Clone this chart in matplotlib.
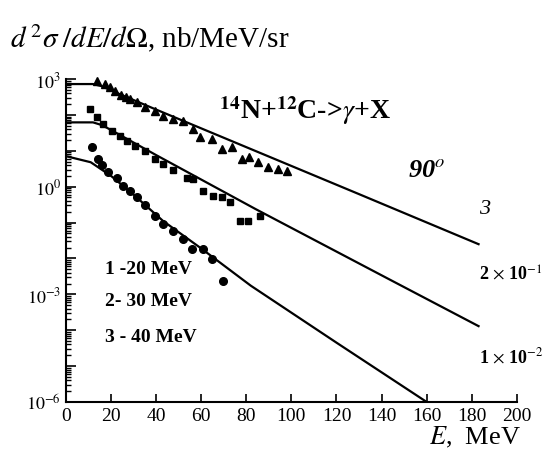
import matplotlib.pyplot as plt
import numpy as np
from matplotlib.ticker import FixedLocator, NullFormatter

plt.rcParams['font.family'] = ['Liberation Serif', 'DejaVu Serif']
plt.rcParams['mathtext.fontset'] = 'stix'

# data points
e_tri = [13.6, 17.3, 19.5, 21.7, 24.5, 26.5, 28.4, 31.3, 35.0, 39.5, 43.2, 47.6, 52.0,
         56.5, 59.4, 64.6, 69.0, 73.5, 77.9, 81.0, 85.0, 89.6, 94.0, 97.9]
v_tri = [890, 720, 600, 470, 355, 316, 275, 224, 162, 132, 95, 78, 69,
         41, 24, 21, 11.2, 12.6, 5.9, 6.6, 4.9, 3.5, 3.1, 2.8]

e_sq = [10.6, 13.6, 16.5, 20.3, 23.9, 26.9, 30.6, 35.0, 39.5, 43.2, 47.6, 53.5, 56.5,
        60.9, 65.3, 69.0, 72.7, 77.2, 80.8, 86.0]
v_sq = [145, 85, 56, 36, 26, 19, 13.8, 10, 5.9, 4.2, 2.95, 1.8, 1.6,
        0.78, 0.56, 0.50, 0.37, 0.112, 0.112, 0.148]

e_circ = [11.7, 14.3, 15.8, 18.8, 22.5, 25.4, 28.4, 31.4, 35.0, 39.5, 43.1, 47.6, 52.0,
          55.7, 60.9, 64.6, 69.6]
v_circ = [12.6, 5.9, 3.9, 2.5, 1.8, 1.07, 0.78, 0.50, 0.30, 0.155, 0.093, 0.060, 0.035,
          0.018, 0.018, 0.0098, 0.0024]

# theory curves
e_l3 = [0, 12, 16, 20, 40, 82, 130, 183]
v_l3 = [725, 725, 630, 480, 141, 11.2, 0.62, 0.025]
e_l2 = [0, 12, 16, 20, 40, 84, 143, 183]
v_l2 = [62, 62, 52, 38, 7.6, 0.24, 0.0027, 1.3e-4]
e_l1 = [0, 11, 20, 30, 43, 60, 82, 120, 160]
v_l1 = [7.1, 4.8, 2.0, 0.60, 0.112, 0.019, 0.00174, 4.5e-5, 1e-6]

fig = plt.figure(figsize=(5.54, 4.64), dpi=100)
ax = fig.add_axes([0.119, 0.1315, 0.814, 0.696])

ax.plot(e_l3, v_l3, 'k-', lw=1.6)
ax.plot(e_l2, v_l2, 'k-', lw=1.6)
ax.plot(e_l1, v_l1, 'k-', lw=1.6)
ax.plot(e_tri, v_tri, 'k^', ms=6, clip_on=False)
ax.plot(e_sq, v_sq, 'ks', ms=5)
ax.plot(e_circ, v_circ, 'ko', ms=5.5)

ax.set_yscale('log')
ax.set_xlim(0, 200)
ax.set_ylim(1e-6, 1e3)
ax.set_xticks(np.arange(0, 201, 20))
ax.set_yticks([10.0**k for k in range(-6, 4)])
ax.set_yticklabels([r'$10^{%d}$' % k if k % 3 == 0 else '' for k in range(-6, 4)])
minors = [m * 10.0**k for k in range(-6, 3) for m in range(2, 10)]
ax.yaxis.set_minor_locator(FixedLocator(minors))
ax.yaxis.set_minor_formatter(NullFormatter())
ax.tick_params(axis='both', which='both', direction='in', width=1.2)
ax.tick_params(axis='x', which='minor', length=0)
ax.tick_params(axis='x', which='major', length=6, labelsize=14)
ax.tick_params(axis='y', which='major', length=7, labelsize=13)
ax.tick_params(axis='y', which='minor', length=3.5, width=1)
for s in ['top', 'right']:
    ax.spines[s].set_visible(False)
ax.spines['left'].set_linewidth(1.5)
ax.spines['bottom'].set_linewidth(1.5)

fig.text(0.018, 0.918, r'$d^{\,2}\sigma\;/dE/d\Omega$' + ', nb/MeV/sr', fontsize=21, va='center')
fig.text(0.94, 0.058, r'$E$' + ',  MeV', fontsize=19, ha='right', va='center')

ax.text(68, 145, r'$^{\mathbf{14}}$N+$^{\mathbf{12}}$C->$\gamma$+X', fontsize=20,
        fontweight='bold', va='center')
ax.text(151.7, 3.1, r'90$^{o}$', fontsize=19, fontweight='bold', style='italic', va='center')
ax.text(183, 0.24, '3', fontsize=16, style='italic', va='center')
ax.text(183, 0.0037, r'2 $\times$ 10$^{-1}$', fontsize=13, fontweight='bold', va='center')
ax.text(183, 1.9e-5, r'1 $\times$ 10$^{-2}$', fontsize=13, fontweight='bold', va='center')
ax.text(17.3, 5.1e-3, '1 -20 MeV', fontsize=14, fontweight='bold', va='center')
ax.text(17.3, 6.6e-4, '2- 30 MeV', fontsize=14, fontweight='bold', va='center')
ax.text(17.3, 6.9e-5, '3 - 40 MeV', fontsize=14, fontweight='bold', va='center')

fig.savefig('out.png', dpi=100)
